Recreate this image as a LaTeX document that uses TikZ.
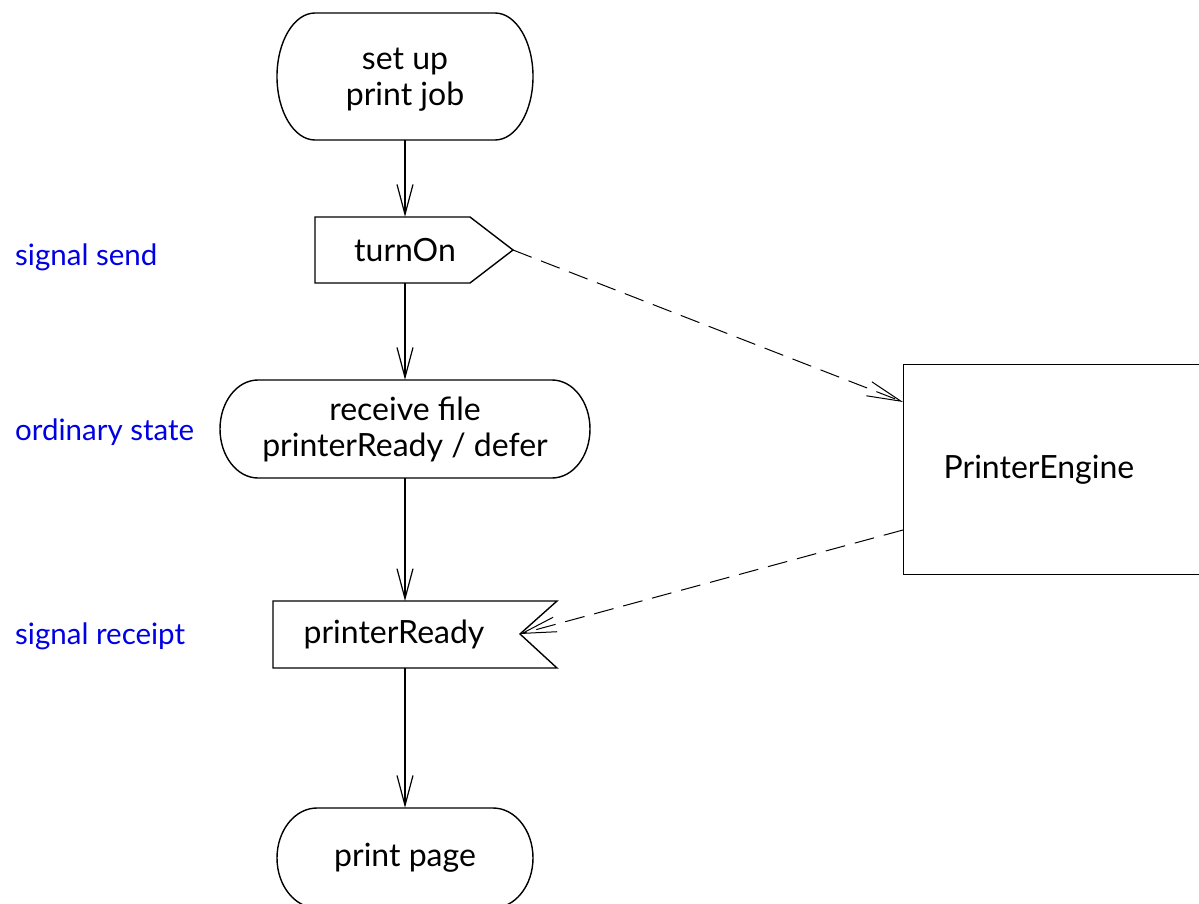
\documentclass[tikz,border=0pt]{standalone}
\usepackage{fontspec}
\setmainfont{Lato}
\usetikzlibrary{arrows.meta}
\begin{document}
\begin{tikzpicture}[x=1pt,y=1pt,
  outline/.style={draw=black,line width=1.4pt},
  txt/.style={font=\fontsize{32}{36}\selectfont,inner sep=0pt,align=center},
  note/.style={font=\fontsize{29.5}{34}\selectfont,text=blue!90!black,inner sep=0pt,anchor=west},
  flow/.style={line width=1.4pt,-{Straight Barb[length=30pt,width=16pt,line width=1.2pt]}},
  sig/.style={line width=1pt,dash pattern=on 20pt off 10pt,-{Straight Barb[length=34pt,width=15pt,line width=1pt]}}
]
\useasboundingbox (0,0) rectangle (1199,-904);
\fill[white] (0,0) rectangle (1199,-904);
\clip (0,0) rectangle (1199,-904);

% stadium outlines
\draw[outline] (315,-13) -- (495,-13)
  arc[start angle=90,end angle=-90,x radius=38pt,y radius=63.5pt] -- (315,-140)
  arc[start angle=270,end angle=90,x radius=38pt,y radius=63.5pt] -- cycle;
\draw[outline] (258,-380) -- (552,-380)
  arc[start angle=90,end angle=-90,x radius=38pt,y radius=49pt] -- (258,-478)
  arc[start angle=270,end angle=90,x radius=38pt,y radius=49pt] -- cycle;
\draw[outline] (317,-808) -- (493,-808)
  arc[start angle=90,end angle=-90,x radius=40pt,y radius=50pt] -- (317,-908)
  arc[start angle=270,end angle=90,x radius=40pt,y radius=50pt] -- cycle;

% signal send / receipt outlines
\draw[outline] (315,-217) -- (470,-217) -- (513,-250) -- (470,-283) -- (315,-283) -- cycle;
\draw[outline] (273,-601) -- (557,-601) -- (520,-634) -- (557,-668) -- (273,-668) -- cycle;

% nodes
\node[txt,minimum width=256pt,minimum height=127pt] (setup) at (405,-76.5) {};
\node[txt] (setuptext) at (405,-80) {set up\\print job};
\node[txt,minimum width=160pt,minimum height=66pt] (turnon) at (405,-250) {turnOn};
\coordinate (sendtip) at (513,-250);
\node[txt,minimum width=370pt,minimum height=98pt] (receive) at (405,-429) {receive file\\printerReady / defer};
\node[txt] (ready) at (394,-634) {printerReady};
\coordinate (readytop) at (405,-601);
\coordinate (readybot) at (405,-668);
\coordinate (notch) at (520,-634);
\node[txt,minimum width=256pt,minimum height=100pt] (page) at (405,-858) {print page};
\node[outline,font=\fontsize{32}{36}\selectfont,anchor=north west,minimum height=210pt,
  text width=232pt,inner xsep=40pt,inner ysep=0pt,align=left] (engine) at (903,-364) {PrinterEngine};
\coordinate (ein) at (903,-402);
\coordinate (eout) at (903,-530);

% labels
\node[note] (l1) at (15,-257) {signal send};
\node[note] (l2) at (15,-432) {ordinary state};
\node[note] (l3) at (15,-636) {signal receipt};

% connectors
\draw[flow] (setup.south) -- (turnon.north);
\draw[flow] (turnon.south) -- (receive.north);
\draw[flow] (receive.south) -- (readytop);
\draw[flow] (readybot) -- (page.north);
\draw[sig] (sendtip) -- (ein);
\draw[sig] (eout) -- (notch);
\end{tikzpicture}
\end{document}
